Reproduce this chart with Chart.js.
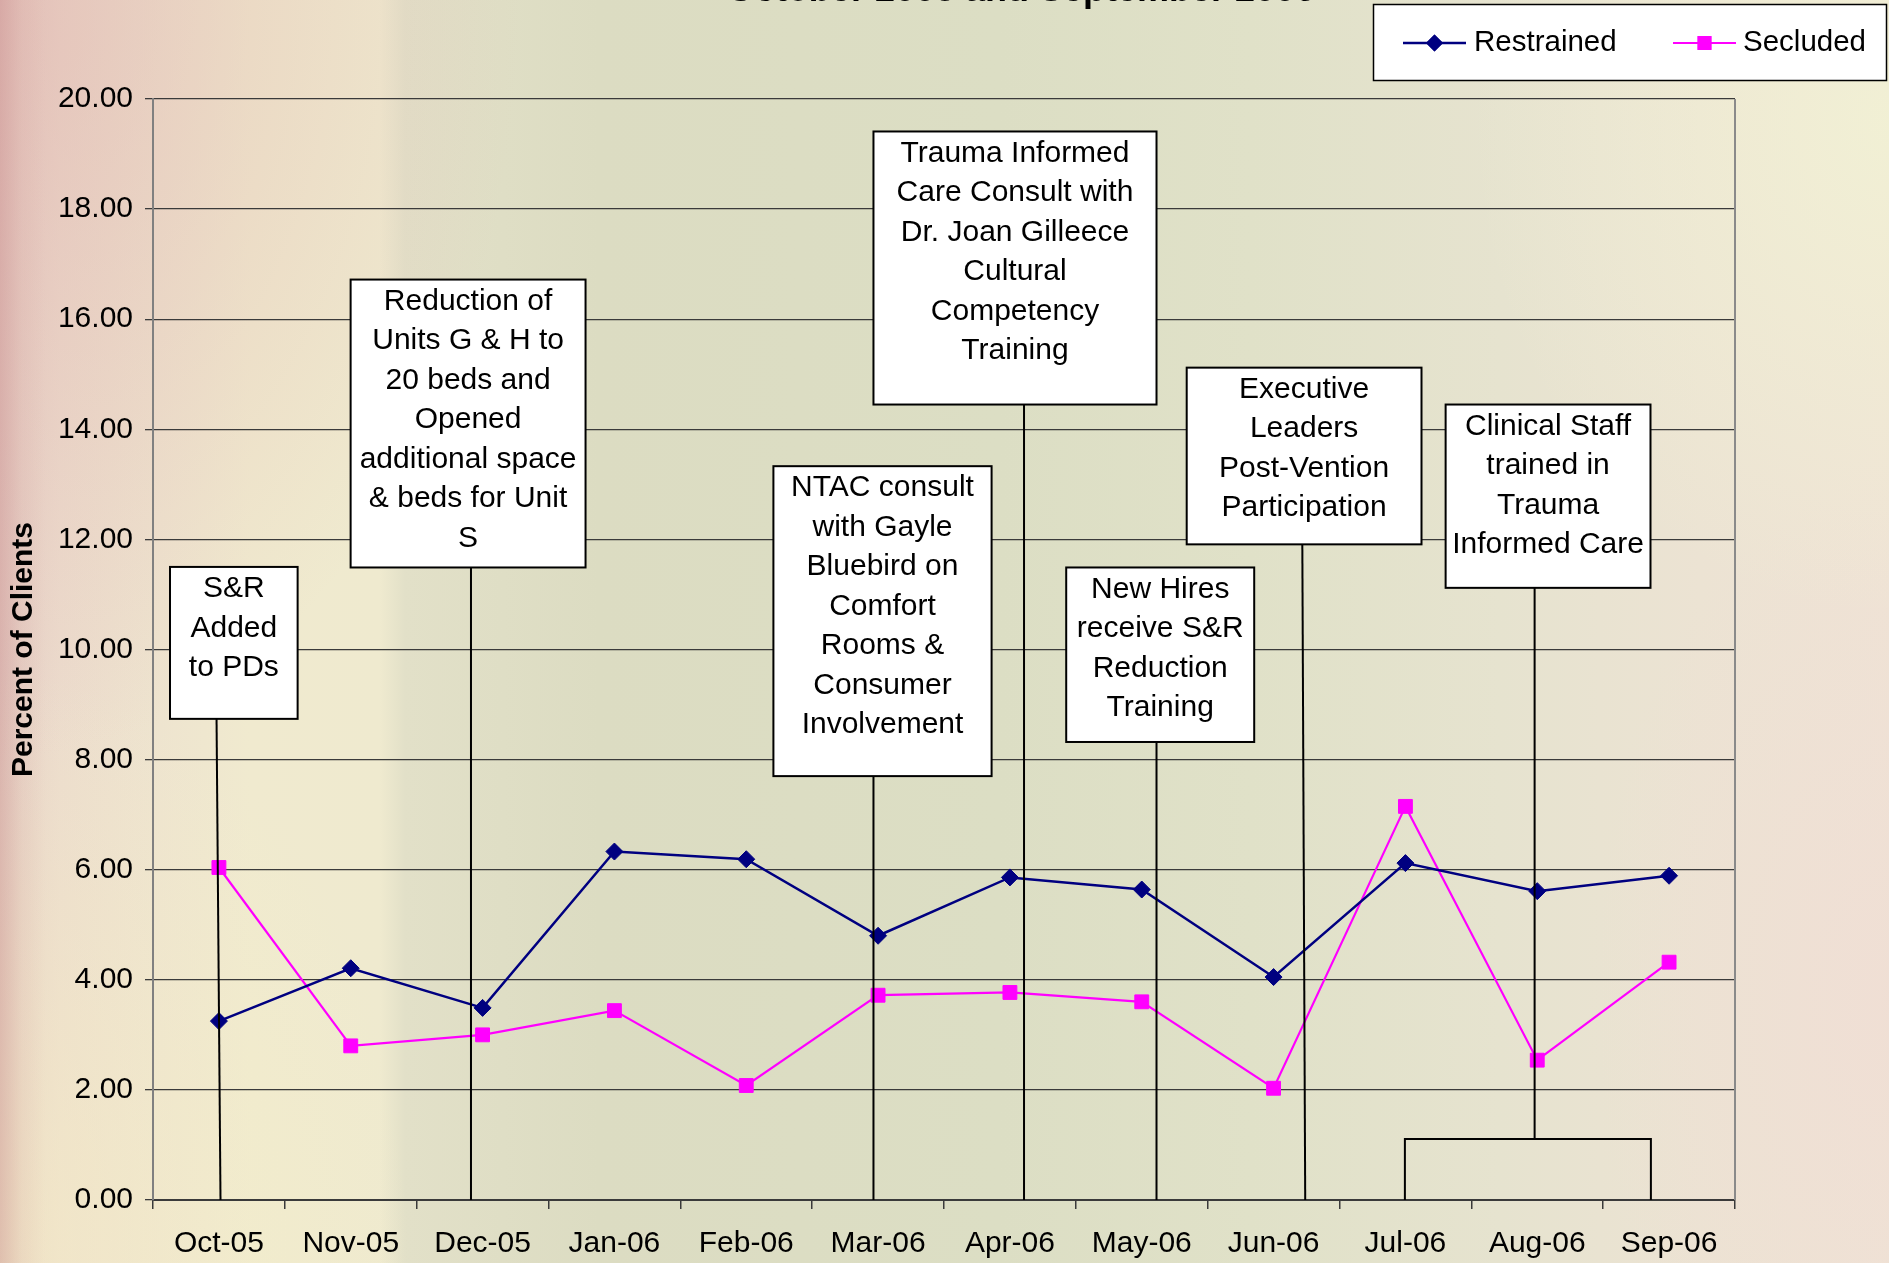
<!DOCTYPE html>
<html>
<head>
<meta charset="utf-8">
<script src="https://cdn.jsdelivr.net/npm/chart.js@4.4.1/dist/chart.umd.min.js"></script>
<style>
html,body{margin:0;padding:0;width:1889px;height:1263px;overflow:hidden;}
body{
  background:
    linear-gradient(to right, rgba(200,140,140,0.40) 0px, rgba(210,160,155,0.15) 22px, rgba(0,0,0,0) 45px),
    radial-gradient(ellipse 520px 760px at 0px 0px, rgba(222,172,168,0.50), rgba(222,172,168,0) 100%),
    radial-gradient(ellipse 420px 600px at 0px 1263px, rgba(246,240,196,0.55), rgba(246,240,196,0) 100%),
    radial-gradient(ellipse 420px 500px at 1889px 120px, rgba(242,244,212,0.75), rgba(242,244,212,0) 100%),
    radial-gradient(ellipse 300px 520px at 1889px 1000px, rgba(240,220,212,0.6), rgba(240,220,212,0) 100%),
    linear-gradient(to right, #e6cfc6 0px, #ecdccd 60px, #eee4cf 160px, #f0eacf 250px, #efeacf 380px, #e2e0c8 405px, #dcdcc2 600px, #dcdec4 1000px, #e0e1c8 1250px, #e6e3cf 1500px, #ece3d3 1700px, #efe3d5 1889px);
}
canvas{display:block;}
</style>
</head>
<body>
<canvas id="c" width="1889" height="1263"></canvas>
<script>
// ---- data ----
const months = ["Oct-05","Nov-05","Dec-05","Jan-06","Feb-06","Mar-06","Apr-06","May-06","Jun-06","Jul-06","Aug-06","Sep-06"];
const restrained = [3.25, 4.21, 3.49, 6.33, 6.19, 4.80, 5.86, 5.64, 4.05, 6.12, 5.61, 5.89];
const secluded   = [6.04, 2.80, 3.00, 3.44, 2.08, 3.72, 3.77, 3.60, 2.03, 7.15, 2.54, 4.32];
const seriesNames = ["Restrained", "Secluded"];
const yMin = 0, yMax = 20, yStep = 2;
const yTitle = "Percent of Clients";
const chartTitle = "October 2005 and September 2006";

// annotation call-outs, positioned in data units (x = category index, y = percent)
const noteTexts = [
  ["S&R","Added","to PDs"],
  ["Reduction of","Units G & H to","20 beds and","Opened","additional space","& beds for Unit","S"],
  ["Trauma Informed","Care Consult with","Dr. Joan Gilleece","Cultural","Competency","Training"],
  ["NTAC consult","with Gayle","Bluebird on","Comfort","Rooms &","Consumer","Involvement"],
  ["Executive","Leaders","Post-Vention","Participation"],
  ["New Hires","receive S&R","Reduction","Training"],
  ["Clinical Staff","trained in","Trauma","Informed Care"]
];
const noteBoxX = [[-0.371,0.597],[0.999,2.781],[4.965,7.112],[4.206,5.861],[7.341,9.122],[6.427,7.853],[9.305,10.859]];
const noteBoxY = [[11.50,8.74],[16.72,11.49],[19.41,14.45],[13.33,7.70],[15.12,11.91],[11.49,8.32],[14.45,11.12]];
const noteLineX = [[-0.018,0.012],[1.912,1.912],[6.107,6.107],[4.965,4.965],[8.218,8.24],[7.112,7.112],[9.98,9.98]];
const bracket = {note:6, y:1.108, x0:8.996, x1:10.862};

const FONT = '"Liberation Sans", Arial, sans-serif';
const colors = ['#000080', '#FF00FF'];

const notesPlugin = {
  id: 'notes',
  beforeDatasetsDraw(chart) {
    const {ctx, chartArea} = chart;
    ctx.save();
    ctx.strokeStyle = '#8a8a8a';
    ctx.lineWidth = 2;
    ctx.beginPath();
    ctx.moveTo(chartArea.right, chartArea.top);
    ctx.lineTo(chartArea.right, chartArea.bottom);
    ctx.stroke();
    ctx.restore();
  },
  afterDatasetsDraw(chart) {
    const {ctx, scales:{x, y}} = chart;
    ctx.save();
    ctx.strokeStyle = '#000';
    ctx.lineWidth = 2;
    const y0 = y.getPixelForValue(0);
    noteTexts.forEach((lines, i) => {
      const left = x.getPixelForValue(noteBoxX[i][0]);
      const right = x.getPixelForValue(noteBoxX[i][1]);
      const top = y.getPixelForValue(noteBoxY[i][0]);
      const bot = y.getPixelForValue(noteBoxY[i][1]);
      ctx.beginPath();
      ctx.moveTo(x.getPixelForValue(noteLineX[i][0]), bot);
      if (bracket.note === i) {
        const by = y.getPixelForValue(bracket.y);
        ctx.lineTo(x.getPixelForValue(noteLineX[i][1]), by);
        ctx.moveTo(x.getPixelForValue(bracket.x0), y0);
        ctx.lineTo(x.getPixelForValue(bracket.x0), by);
        ctx.lineTo(x.getPixelForValue(bracket.x1), by);
        ctx.lineTo(x.getPixelForValue(bracket.x1), y0);
      } else {
        ctx.lineTo(x.getPixelForValue(noteLineX[i][1]), y0);
      }
      ctx.stroke();
      ctx.fillStyle = '#fff';
      ctx.fillRect(left, top, right - left, bot - top);
      ctx.strokeRect(left, top, right - left, bot - top);
      ctx.fillStyle = '#000';
      ctx.font = '30px ' + FONT;
      ctx.textAlign = 'center';
      ctx.textBaseline = 'middle';
      const cx = (left + right) / 2;
      lines.forEach((t, k) => ctx.fillText(t, cx, top + 22 + k * 39.5));
    });
    ctx.restore();
  },
  afterDraw(chart) {
    const {ctx} = chart;
    ctx.save();
    // partially visible title (cut off by the top edge)
    ctx.fillStyle = '#000';
    ctx.font = 'bold 36px ' + FONT;
    ctx.textAlign = 'center';
    ctx.textBaseline = 'alphabetic';
    ctx.fillText(chartTitle, 1021, 0.7);
    // legend
    const lx = 1373.5, ly = 4.5, lw = 513, lh = 76;
    ctx.fillStyle = '#fff';
    ctx.fillRect(lx, ly, lw, lh);
    ctx.strokeStyle = '#000';
    ctx.lineWidth = 1.5;
    ctx.strokeRect(lx, ly, lw, lh);
    const items = [
      {x0:1403, x1:1466, tx:1474},
      {x0:1673, x1:1736, tx:1743}
    ];
    chart.data.datasets.forEach((ds, i) => {
      const it = items[i];
      const cy = 43;
      ctx.strokeStyle = ds.borderColor;
      ctx.lineWidth = ds.borderWidth;
      ctx.beginPath();
      ctx.moveTo(it.x0, cy); ctx.lineTo(it.x1, cy);
      ctx.stroke();
      ctx.fillStyle = ds.pointBackgroundColor;
      Chart.helpers.drawPoint(ctx, {pointStyle: ds.pointStyle, radius: ds.pointRadius, borderWidth: 0, rotation: 0}, (it.x0 + it.x1) / 2, cy);
      ctx.fill();
      ctx.fillStyle = '#000';
      ctx.font = '29.5px ' + FONT;
      ctx.textAlign = 'left';
      ctx.textBaseline = 'middle';
      ctx.fillText(ds.label, it.tx, cy);
    });
    ctx.restore();
  }
};

new Chart(document.getElementById('c'), {
  type: 'line',
  data: {
    labels: months,
    datasets: [
      {label: seriesNames[0], data: restrained, borderColor: colors[0], backgroundColor: colors[0],
       pointBackgroundColor: colors[0], pointBorderColor: colors[0], borderWidth: 2.5,
       pointStyle: 'rectRot', pointRadius: 8.5, pointBorderWidth: 1, tension: 0, fill: false},
      {label: seriesNames[1], data: secluded, borderColor: colors[1], backgroundColor: colors[1],
       pointBackgroundColor: colors[1], pointBorderColor: colors[1], borderWidth: 2.2,
       pointStyle: 'rect', pointRadius: 9.8, pointBorderWidth: 1, tension: 0, fill: false}
    ]
  },
  options: {
    responsive: false,
    animation: false,
    devicePixelRatio: 1,
    layout: {padding: {top: 99, right: 154, left: 0, bottom: 0}},
    plugins: {legend: {display: false}, tooltip: {enabled: false}, title: {display: false}},
    scales: {
      x: {
        offset: true,
        grid: {offset: true, drawOnChartArea: false, drawTicks: true, tickLength: 9, color: '#3a3a3a', lineWidth: 1.5},
        border: {color: '#3a3a3a', width: 2},
        ticks: {font: {family: FONT, size: 30}, color: '#000', padding: 17, maxRotation: 0, autoSkip: false},
        afterFit(s) { s.height = 63; }
      },
      y: {
        min: yMin, max: yMax,
        ticks: {stepSize: yStep, callback: v => Number(v).toFixed(2), font: {family: FONT, size: 30}, color: '#000', padding: 12},
        grid: {color: '#3a3a3a', lineWidth: 1.3, tickLength: 8},
        border: {color: '#808080', width: 2},
        title: {display: true, text: yTitle, font: {family: FONT, size: 30, weight: 'bold'}, color: '#000', padding: {top: 6, bottom: 0}},
        afterFit(s) { s.width = 153; }
      }
    }
  },
  plugins: [notesPlugin]
});
</script>
</body>
</html>
